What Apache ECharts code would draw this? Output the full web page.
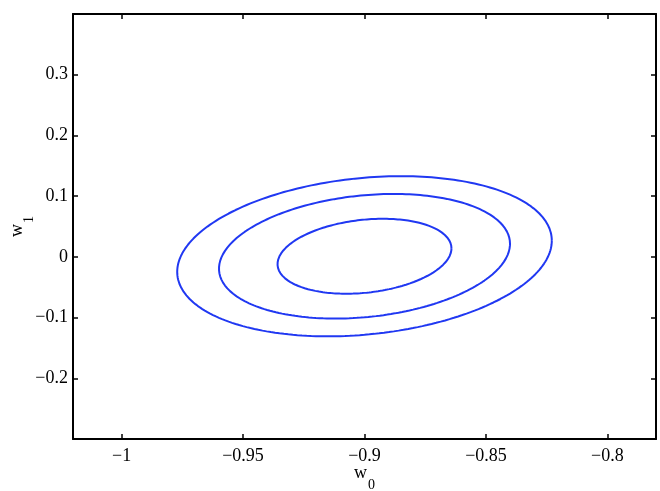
<!DOCTYPE html>
<html lang="en">
  <head>
    <meta charset="UTF-8" />
    <title>w0 w1 contours</title>
    <script src="https://cdnjs.cloudflare.com/ajax/libs/echarts/6.0.0/echarts.min.js"></script>
    <style>
      html, body { margin: 0; padding: 0; background: #fff; }
      #main { width: 660px; height: 491px; }
    </style>
  </head>
  <body>
    <div id="main"></div>
    <script>
      // contour ellipses (data units)
      var center = [-0.9, 0.001];
      var halfWidthW0 = [0.0358, 0.0599, 0.0771];   // half extent along w0
      var halfHeightW1 = [0.0617, 0.1026, 0.1319];  // half extent along w1
      var corr = [0.21, 0.2, 0.195];                // tilt (correlation)

      var xTicks = [-1, -0.95, -0.9, -0.85, -0.8];
      var yTicks = [-0.2, -0.1, 0, 0.1, 0.2, 0.3];

      function ellipse(i) {
        var pts = [];
        var n = 240;
        for (var k = 0; k <= n; k++) {
          var t = (2 * Math.PI * k) / n;
          var x = center[0] + halfWidthW0[i] * Math.cos(t);
          var y = center[1] + halfHeightW1[i] * (corr[i] * Math.cos(t) + Math.sqrt(1 - corr[i] * corr[i]) * Math.sin(t));
          pts.push([x, y]);
        }
        return pts;
      }

      var font = "Liberation Serif";
      function minus(v) {
        return String(+(+v).toFixed(2)).replace("-", "\u2212");
      }

      var tickStyle = { inside: true, length: 5, lineStyle: { color: "#000", width: 1.5 } };
      var lineStyle = { onZero: false, lineStyle: { color: "#000", width: 2 } };
      var subRich = {
        w: { fontFamily: font, fontSize: 18, color: "#000", verticalAlign: "top", lineHeight: 18 },
        s: { fontFamily: font, fontSize: 14, color: "#000", verticalAlign: "top", lineHeight: 14, padding: [14, 0, 0, 1] },
      };

      var myChart = echarts.init(document.getElementById("main"));
      var series = [];
      for (var i = 0; i < halfWidthW0.length; i++) {
        series.push({
          type: "line",
          data: ellipse(i),
          showSymbol: false,
          silent: true,
          lineStyle: { color: "#2038f2", width: 2 },
        });
      }

      var option = {
        animation: false,
        backgroundColor: "#fff",
        grid: { left: 73, right: 4, top: 14, bottom: 52, outerBoundsMode: "none", containLabel: false },
        xAxis: [
          {
            type: "value",
            min: -1.02,
            max: -0.78,
            name: "{w|w}{s|0}",
            nameLocation: "middle",
            nameMoveOverlap: false,
            nameGap: 25,
            nameTextStyle: { rich: subRich },
            axisLine: lineStyle,
            axisTick: Object.assign({ customValues: xTicks }, tickStyle),
            splitLine: { show: false },
            axisLabel: {
              customValues: xTicks,
              margin: 8,
              color: "#000",
              fontFamily: font,
              fontSize: 18,
              formatter: minus,
            },
          },
          {
            type: "value",
            position: "top",
            min: -1.02,
            max: -0.78,
            axisLine: lineStyle,
            axisTick: Object.assign({ customValues: xTicks }, tickStyle),
            axisLabel: { show: false },
            splitLine: { show: false },
          },
        ],
        yAxis: [
          {
            type: "value",
            min: -0.3,
            max: 0.4,
            name: "{w|w}{s|1}",
            nameLocation: "middle",
            nameMoveOverlap: false,
            nameGap: 47,
            nameTextStyle: { rich: subRich },
            axisLine: lineStyle,
            axisTick: Object.assign({ customValues: yTicks }, tickStyle),
            splitLine: { show: false },
            axisLabel: {
              customValues: yTicks,
              margin: 5,
              color: "#000",
              fontFamily: font,
              fontSize: 18,
              formatter: minus,
            },
          },
          {
            type: "value",
            position: "right",
            min: -0.3,
            max: 0.4,
            axisLine: lineStyle,
            axisTick: Object.assign({ customValues: yTicks }, tickStyle),
            axisLabel: { show: false },
            splitLine: { show: false },
          },
        ],
        series: series,
      };
      myChart.setOption(option);
    </script>
  </body>
</html>
